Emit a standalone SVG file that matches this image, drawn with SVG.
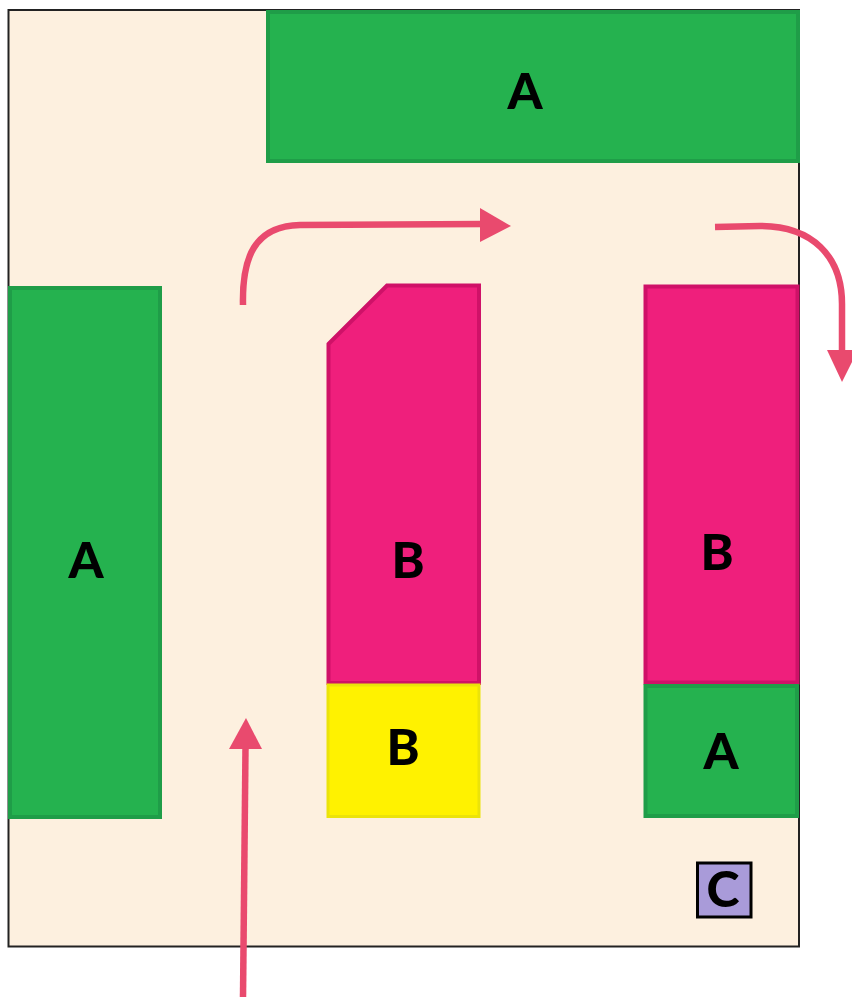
<svg xmlns="http://www.w3.org/2000/svg" width="852" height="997" viewBox="0 0 852 997">
<style>
.g{fill:#25b24f;stroke:#1f9d48;stroke-width:4}
.m{fill:#ef1f7c;stroke:#cf1168;stroke-width:4}
.y{fill:#fff200;stroke:#ebe30a;stroke-width:3}
text{font-family:Lato,"Open Sans",sans-serif;font-weight:900;font-size:50px;fill:#000;text-anchor:middle}
.c{fill:none;stroke:#e94a6e;stroke-width:6.500}
.h{fill:#e94a6e}
</style>
<rect id="frame" x="8.500" y="10" width="790.500" height="936.500" fill="#fdf0df" stroke="#222" stroke-width="2"/>
<g id="a-top"><rect class="g" x="268" y="12" width="530" height="149"/><text x="525" y="109">A</text></g>
<g id="a-left"><rect class="g" x="10" y="288" width="150" height="529"/><text x="86" y="578">A</text></g>
<g id="b-mid"><path class="m" d="M328.500 344L387 285.500H479V683H328.500Z"/><text x="408" y="578">B</text></g>
<g id="b-yellow"><rect class="y" x="328" y="685" width="151" height="131.500"/><text x="403" y="765">B</text></g>
<g id="b-right"><rect class="m" x="645.500" y="286.500" width="152" height="396"/><text x="717" y="570">B</text></g>
<g id="a-right"><rect class="g" x="645.500" y="686" width="151.500" height="130"/><text x="721" y="769">A</text></g>
<g id="c-box"><rect x="697.500" y="863" width="53.500" height="54" fill="#a99bd9" stroke="#000" stroke-width="3"/><text x="723" y="907">C</text></g>
<g id="connectors">
<path class="c" d="M243 305C242 258 254 226 300 225L484 224"/>
<path class="h" d="M480 208L511 226L480 242Z"/>
<path class="c" d="M715 227L760 226C812 226 842 256 842 304L842 352"/>
<path class="h" d="M827 350L858 350L842 382Z"/>
<path class="c" d="M243 997L245.500 748"/>
<path class="h" d="M229 749L246 718L262 749Z"/>
</g>
</svg>
